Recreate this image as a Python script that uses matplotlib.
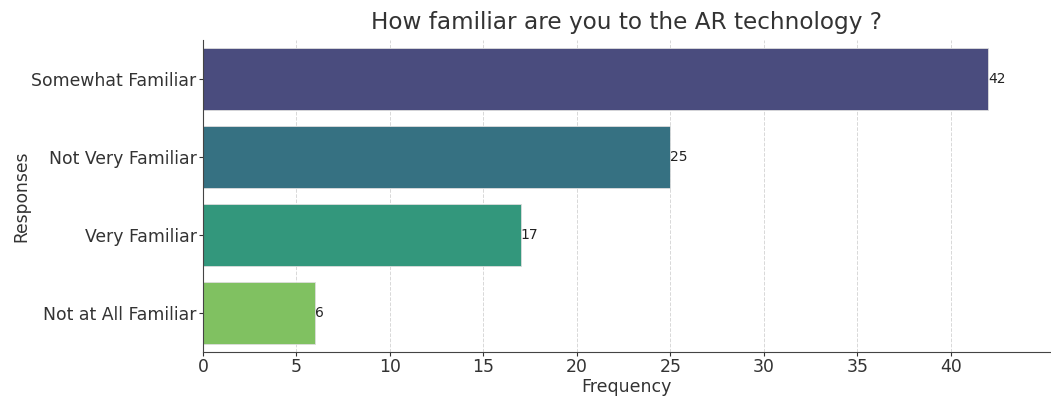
import matplotlib
matplotlib.use("Agg")
import matplotlib.pyplot as plt
import seaborn as sns
import pandas as pd

# Survey responses
responses = ["Somewhat Familiar", "Not Very Familiar", "Very Familiar", "Not at All Familiar"]
counts = [42, 25, 17, 6]

df = pd.DataFrame({"Responses": responses, "Frequency": counts})

fig, ax = plt.subplots(figsize=(10.51, 3.98), dpi=100)
sns.barplot(data=df, x="Frequency", y="Responses", hue="Responses",
            palette="viridis", legend=False, ax=ax,
            edgecolor="#dddddd", linewidth=0.6)

for i, v in enumerate(counts):
    ax.text(v, i, str(v), va="center", ha="left", fontsize=10, color="#222222")

ax.set_title("How familiar are you to the AR technology ?", fontsize=16.7,
             color="#333333", pad=8)
ax.set_xlabel("Frequency", fontsize=12.5, color="#333333", labelpad=1)
ax.set_ylabel("Responses", fontsize=12.3, color="#333333", labelpad=1)
ax.tick_params(axis="both", labelsize=12.4, colors="#333333", length=3, pad=1.5)
ax.set_xticks(range(0, 45, 5))
ax.xaxis.grid(True, linestyle="--", color="#d8d8d8", linewidth=0.7)
ax.set_axisbelow(True)
ax.set_xlim(0, 45.3)
ax.set_ylim(3.5, -0.5)
ax.spines["top"].set_visible(False)
ax.spines["right"].set_visible(False)
ax.spines["left"].set_color("#444444")
ax.spines["bottom"].set_color("#444444")

plt.subplots_adjust(left=0.193, right=0.999, top=0.9, bottom=0.115)
fig.savefig("out.png", dpi=100)
